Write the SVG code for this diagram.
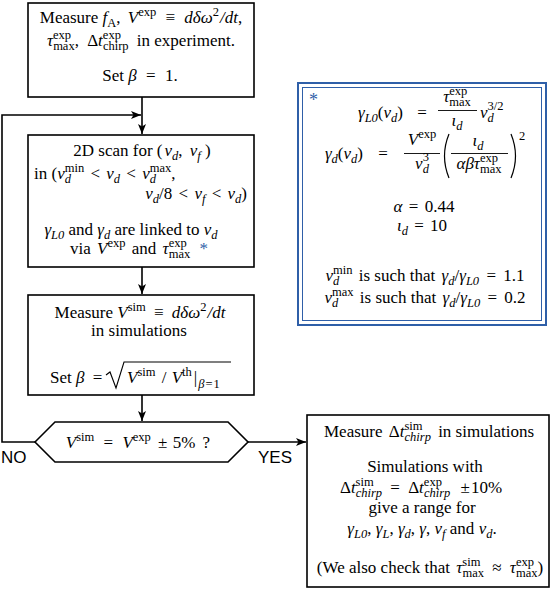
<svg xmlns="http://www.w3.org/2000/svg" width="551" height="591" viewBox="0 0 551 591">
<defs>
<marker id="ah" viewBox="0 0 10 8" refX="10" refY="4" markerWidth="10" markerHeight="8" markerUnits="userSpaceOnUse" orient="auto">
<path d="M0,0 L10,4 L0,8 L2.5,4 Z" fill="#000"/>
</marker>
</defs>
<rect width="551" height="591" fill="#fff"/>
<g id="connectors" fill="none" stroke="#000" stroke-width="1.6">
<line x1="142" y1="97" x2="142" y2="134" marker-end="url(#ah)"/>
<polyline points="35,442 2,442 2,115 141,115" marker-end="url(#ah)"/>
<line x1="142" y1="267" x2="142" y2="294" marker-end="url(#ah)"/>
<line x1="142" y1="395" x2="142" y2="421" marker-end="url(#ah)"/>
<line x1="248" y1="442" x2="306" y2="442" marker-end="url(#ah)"/>
</g>
<text font-family="Liberation Sans" font-size="17" x="1" y="463">NO</text>
<text font-family="Liberation Sans" font-size="17" x="258" y="463">YES</text>

<g id="measure-exp">
<rect x="28" y="3" width="226" height="94" fill="#fff" stroke="#000" stroke-width="1.6"/>
<text font-family="Liberation Serif" font-size="17" x="141" y="23" text-anchor="middle">Measure <tspan font-style="italic">f</tspan><tspan font-size="12.5" dy="4">A</tspan><tspan dy="-4">, </tspan><tspan font-style="italic" dx="3">V</tspan><tspan font-size="12.5" dy="-7">exp</tspan><tspan dy="7" dx="5"> ≡ </tspan><tspan font-style="italic" dx="5">dδω</tspan><tspan font-size="12.5" dy="-7">2</tspan><tspan font-style="italic" dy="7" dx="1">/dt</tspan>,</text>
<text font-family="Liberation Serif" font-size="17" x="141" y="46" text-anchor="middle"><tspan font-style="italic">τ</tspan><tspan font-size="12.5" dy="-7">exp</tspan><tspan font-size="12.5" dx="-18" dy="11">max</tspan><tspan dy="-4">, </tspan><tspan dx="4">Δ</tspan><tspan font-style="italic">t</tspan><tspan font-size="12.5" dy="-7">exp</tspan><tspan font-size="12.5" dx="-18" dy="11">chirp</tspan><tspan dy="-4" dx="4"> in experiment.</tspan></text>
<text font-family="Liberation Serif" font-size="17" x="140" y="81" text-anchor="middle">Set <tspan font-style="italic">β</tspan><tspan dx="5"> = </tspan><tspan dx="5">1.</tspan></text>
</g>

<g id="scan">
<rect x="28" y="135" width="226" height="132" fill="#fff" stroke="#000" stroke-width="1.6"/>
<text font-family="Liberation Serif" font-size="17" x="142" y="156" text-anchor="middle">2D scan for (<tspan font-style="italic" dx="2">ν</tspan><tspan font-size="12.5" font-style="italic" dy="4">d</tspan><tspan dy="-4">, </tspan><tspan font-style="italic" dx="3">ν</tspan><tspan font-size="12.5" font-style="italic" dy="4">f</tspan><tspan dy="-4"> )</tspan></text>
<text font-family="Liberation Serif" font-size="17" x="34" y="179">in (<tspan font-style="italic">ν</tspan><tspan font-size="12.5" font-style="italic" dy="4">d</tspan><tspan font-size="12.5" dx="-6.25" dy="-11">min</tspan><tspan dy="7" dx="2"> &lt; </tspan><tspan font-style="italic" dx="2">ν</tspan><tspan font-size="12.5" font-style="italic" dy="4">d</tspan><tspan dy="-4" dx="2"> &lt; </tspan><tspan font-style="italic" dx="2">ν</tspan><tspan font-size="12.5" font-style="italic" dy="4">d</tspan><tspan font-size="12.5" dx="-6.25" dy="-11">max</tspan><tspan dy="7">,</tspan></text>
<text font-family="Liberation Serif" font-size="17" x="247" y="199" text-anchor="end"><tspan font-style="italic">ν</tspan><tspan font-size="12.5" font-style="italic" dy="4">d</tspan><tspan dy="-4">/8</tspan><tspan dx="2"> &lt; </tspan><tspan font-style="italic" dx="2">ν</tspan><tspan font-size="12.5" font-style="italic" dy="4">f</tspan><tspan dy="-4" dx="2"> &lt; </tspan><tspan font-style="italic" dx="2">ν</tspan><tspan font-size="12.5" font-style="italic" dy="4">d</tspan><tspan dy="-4">)</tspan></text>
<text font-family="Liberation Serif" font-size="17" x="131" y="235" text-anchor="middle"><tspan font-style="italic">γ</tspan><tspan font-size="12.5" font-style="italic" dy="4">L0</tspan><tspan dy="-4"> and </tspan><tspan font-style="italic">γ</tspan><tspan font-size="12.5" font-style="italic" dy="4">d</tspan><tspan dy="-4"> are linked to </tspan><tspan font-style="italic">ν</tspan><tspan font-size="12.5" font-style="italic" dy="4">d</tspan></text>
<text font-family="Liberation Serif" font-size="17" x="139" y="254" text-anchor="middle">via <tspan font-style="italic" dx="2">V</tspan><tspan font-size="12.5" dy="-7">exp</tspan><tspan dy="7" dx="2"> and </tspan><tspan font-style="italic" dx="2">τ</tspan><tspan font-size="12.5" dy="-7">exp</tspan><tspan font-size="12.5" dx="-18" dy="11">max</tspan><tspan dy="-4" fill="#2f5fa8" dx="5"> *</tspan></text>
</g>

<g id="measure-sim">
<rect x="28" y="295" width="226" height="100" fill="#fff" stroke="#000" stroke-width="1.6"/>
<text font-family="Liberation Serif" font-size="17" x="140" y="318" text-anchor="middle">Measure <tspan font-style="italic">V</tspan><tspan font-size="12.5" dy="-7">sim</tspan><tspan dy="7" dx="4"> ≡ </tspan><tspan font-style="italic" dx="4">dδω</tspan><tspan font-size="12.5" dy="-7">2</tspan><tspan font-style="italic" dy="7" dx="1">/dt</tspan></text>
<text font-family="Liberation Serif" font-size="17" x="139" y="336" text-anchor="middle">in simulations</text>
<text font-family="Liberation Serif" font-size="17" x="50" y="383">Set <tspan font-style="italic">β</tspan><tspan dx="4"> =</tspan></text>
<path d="M106,375 L110,372 L116,388 L124,362 L231,362" fill="none" stroke="#000" stroke-width="1.1"/>
<text font-family="Liberation Serif" font-size="17" x="127" y="383"><tspan font-style="italic">V</tspan><tspan font-size="12.5" dy="-7">sim</tspan><tspan dy="7" dx="2"> / </tspan><tspan font-style="italic" dx="1">V</tspan><tspan font-size="12.5" dy="-7">th</tspan><tspan dy="7" dx="2">|</tspan><tspan font-size="12.5" font-style="italic" dy="5" dx="1">β</tspan><tspan font-size="12.5" dx="1">=</tspan><tspan font-size="12.5" dx="1">1</tspan></text>
</g>

<g id="decision">
<polygon points="35,442 55,422 228,422 248,442 228,462 55,462" fill="#fff" stroke="#000" stroke-width="1.6"/>
<text font-family="Liberation Serif" font-size="17" x="138" y="448" text-anchor="middle"><tspan font-style="italic">V</tspan><tspan font-size="12.5" dy="-7">sim</tspan><tspan dy="7" dx="5"> = </tspan><tspan font-style="italic" dx="5">V</tspan><tspan font-size="12.5" dy="-7">exp</tspan><tspan dy="7" dx="3"> ±</tspan><tspan dx="1"> 5%</tspan><tspan dx="3"> ?</tspan></text>
</g>

<g id="result">
<rect x="307" y="415" width="242" height="172" fill="#fff" stroke="#000" stroke-width="1.6"/>
<text font-family="Liberation Serif" font-size="17" x="429" y="437" text-anchor="middle">Measure <tspan dx="2">Δ</tspan><tspan font-style="italic">t</tspan><tspan font-size="12.5" dy="-7">sim</tspan><tspan font-size="12.5" font-style="italic" dx="-18" dy="11">chirp</tspan><tspan dy="-4" dx="3"> in simulations</tspan></text>
<text font-family="Liberation Serif" font-size="17" x="425" y="472" text-anchor="middle">Simulations with</text>
<text font-family="Liberation Serif" font-size="17" x="421" y="493" text-anchor="middle">Δ<tspan font-style="italic">t</tspan><tspan font-size="12.5" dy="-7">sim</tspan><tspan font-size="12.5" font-style="italic" dx="-18" dy="11">chirp</tspan><tspan dy="-4" dx="4"> = </tspan><tspan dx="4">Δ</tspan><tspan font-style="italic">t</tspan><tspan font-size="12.5" dy="-7">exp</tspan><tspan font-size="12.5" font-style="italic" dx="-18" dy="11">chirp</tspan><tspan dy="-4" dx="6"> ±</tspan><tspan dx="1">10%</tspan></text>
<text font-family="Liberation Serif" font-size="17" x="422" y="513" text-anchor="middle">give a range for</text>
<text font-family="Liberation Serif" font-size="17" x="422" y="534" text-anchor="middle"><tspan font-style="italic">γ</tspan><tspan font-size="12.5" font-style="italic" dy="4">L0</tspan><tspan dy="-4">, </tspan><tspan font-style="italic">γ</tspan><tspan font-size="12.5" font-style="italic" dy="4">L</tspan><tspan dy="-4">, </tspan><tspan font-style="italic">γ</tspan><tspan font-size="12.5" font-style="italic" dy="4">d</tspan><tspan dy="-4">, </tspan><tspan font-style="italic">γ</tspan>, <tspan font-style="italic">ν</tspan><tspan font-size="12.5" font-style="italic" dy="4">f</tspan><tspan dy="-4"> and </tspan><tspan font-style="italic">ν</tspan><tspan font-size="12.5" font-style="italic" dy="4">d</tspan><tspan dy="-4">.</tspan></text>
<text font-family="Liberation Serif" font-size="17" x="430" y="573" text-anchor="middle">(We also check that <tspan font-style="italic" dx="2">τ</tspan><tspan font-size="12.5" dy="-7">sim</tspan><tspan font-size="12.5" dx="-18" dy="11">max</tspan><tspan dy="-4" dx="4"> ≈ </tspan><tspan font-style="italic" dx="4">τ</tspan><tspan font-size="12.5" dy="-7">exp</tspan><tspan font-size="12.5" dx="-18" dy="11">max</tspan><tspan dy="-4">)</tspan></text>
</g>

<g id="definitions">
<rect x="298" y="83" width="248" height="242" fill="#fff" stroke="#2f5fa8" stroke-width="2"/>
<rect x="302.5" y="87.5" width="239" height="233" fill="none" stroke="#2f5fa8" stroke-width="1"/>
<text font-family="Liberation Serif" font-size="18" fill="#2f5fa8" x="309" y="106">*</text>
<text font-family="Liberation Serif" font-size="17" x="403" y="118" text-anchor="end"><tspan font-style="italic">γ</tspan><tspan font-size="12.5" font-style="italic" dy="4">L0</tspan><tspan dy="-4">(</tspan><tspan font-style="italic">ν</tspan><tspan font-size="12.5" font-style="italic" dy="4">d</tspan><tspan dy="-4">)</tspan></text>
<text font-family="Liberation Serif" font-size="17" x="422" y="118" text-anchor="middle">=</text>
<text font-family="Liberation Serif" font-size="17" x="457" y="102" text-anchor="middle"><tspan font-style="italic">τ</tspan><tspan font-size="12.5" dy="-7">exp</tspan><tspan font-size="12.5" dx="-18" dy="11">max</tspan></text>
<line x1="438" y1="110.5" x2="477" y2="110.5" stroke="#000" stroke-width="0.9"/>
<text font-family="Liberation Serif" font-size="17" x="457" y="126" text-anchor="middle"><tspan font-style="italic">ι</tspan><tspan font-size="12.5" font-style="italic" dy="4">d</tspan></text>
<text font-family="Liberation Serif" font-size="17" x="480" y="118"><tspan font-style="italic">ν</tspan><tspan font-size="12.5" font-style="italic" dy="4">d</tspan><tspan font-size="12.5" dx="-6.25" dy="-12">3/2</tspan></text>

<text font-family="Liberation Serif" font-size="17" x="363" y="159" text-anchor="end"><tspan font-style="italic">γ</tspan><tspan font-size="12.5" font-style="italic" dy="4">d</tspan><tspan dy="-4">(</tspan><tspan font-style="italic">ν</tspan><tspan font-size="12.5" font-style="italic" dy="4">d</tspan><tspan dy="-4">)</tspan></text>
<text font-family="Liberation Serif" font-size="17" x="383" y="159" text-anchor="middle">=</text>
<text font-family="Liberation Serif" font-size="17" x="422" y="145" text-anchor="middle"><tspan font-style="italic">V</tspan><tspan font-size="12.5" dy="-7">exp</tspan></text>
<line x1="404" y1="153.5" x2="440" y2="153.5" stroke="#000" stroke-width="0.9"/>
<text font-family="Liberation Serif" font-size="17" x="422" y="169" text-anchor="middle"><tspan font-style="italic">ν</tspan><tspan font-size="12.5" font-style="italic" dy="4">d</tspan><tspan font-size="12.5" dx="-6.25" dy="-12">3</tspan></text>
<path d="M449,134 Q440,156 449,178" fill="none" stroke="#000" stroke-width="1.2"/>
<text font-family="Liberation Serif" font-size="17" x="478" y="146" text-anchor="middle"><tspan font-style="italic">ι</tspan><tspan font-size="12.5" font-style="italic" dy="4">d</tspan></text>
<line x1="451" y1="153.5" x2="508" y2="153.5" stroke="#000" stroke-width="0.9"/>
<text font-family="Liberation Serif" font-size="17" x="479" y="169" text-anchor="middle"><tspan font-style="italic">αβτ</tspan><tspan font-size="12.5" dy="-7">exp</tspan><tspan font-size="12.5" dx="-18" dy="11">max</tspan></text>
<path d="M511,134 Q520,156 511,178" fill="none" stroke="#000" stroke-width="1.2"/>
<text font-family="Liberation Serif" font-size="12.5" x="519" y="140">2</text>

<text font-family="Liberation Serif" font-size="17" x="424" y="212" text-anchor="middle"><tspan font-style="italic">α</tspan><tspan dx="2"> = </tspan><tspan dx="2">0.44</tspan></text>
<text font-family="Liberation Serif" font-size="17" x="422" y="231" text-anchor="middle"><tspan font-style="italic">ι</tspan><tspan font-size="12.5" font-style="italic" dy="4">d</tspan><tspan dy="-4" dx="2"> = </tspan><tspan dx="2">10</tspan></text>
<text font-family="Liberation Serif" font-size="17" x="425" y="281" text-anchor="middle"><tspan font-style="italic">ν</tspan><tspan font-size="12.5" font-style="italic" dy="4">d</tspan><tspan font-size="12.5" dx="-6.25" dy="-11">min</tspan><tspan dy="7" dx="2"> is such that </tspan><tspan font-style="italic" dx="2">γ</tspan><tspan font-size="12.5" font-style="italic" dy="4">d</tspan><tspan dy="-4">/</tspan><tspan font-style="italic">γ</tspan><tspan font-size="12.5" font-style="italic" dy="4">L0</tspan><tspan dy="-4" dx="3"> = </tspan><tspan dx="3">1.1</tspan></text>
<text font-family="Liberation Serif" font-size="17" x="425" y="303" text-anchor="middle"><tspan font-style="italic">ν</tspan><tspan font-size="12.5" font-style="italic" dy="4">d</tspan><tspan font-size="12.5" dx="-6.25" dy="-11">max</tspan><tspan dy="7" dx="2"> is such that </tspan><tspan font-style="italic" dx="2">γ</tspan><tspan font-size="12.5" font-style="italic" dy="4">d</tspan><tspan dy="-4">/</tspan><tspan font-style="italic">γ</tspan><tspan font-size="12.5" font-style="italic" dy="4">L0</tspan><tspan dy="-4" dx="3"> = </tspan><tspan dx="3">0.2</tspan></text>
</g>
</svg>
